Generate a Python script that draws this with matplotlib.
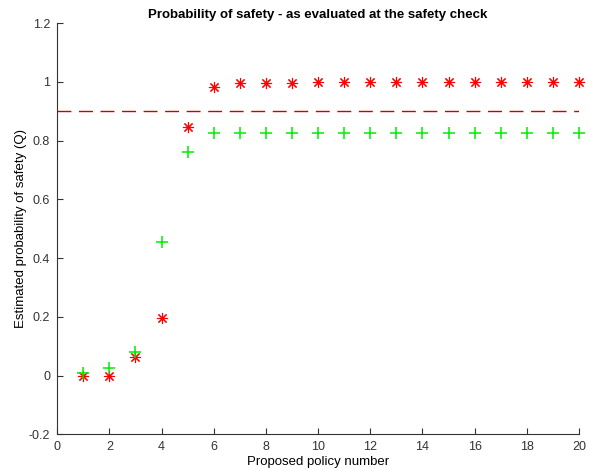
import matplotlib
matplotlib.use('Agg')
import matplotlib.pyplot as plt

plt.rcParams['font.family'] = ['Liberation Sans', 'DejaVu Sans']

# Número de política propuesta
policy = list(range(1, 21))

# Probabilidad estimada en el chequeo de seguridad
q_check = [0.0, 0.0, 0.062, 0.196, 0.846, 0.981, 0.997, 0.997, 0.997, 1.0,
           1.0, 1.0, 1.0, 1.0, 1.0, 1.0, 1.0, 1.0, 1.0, 1.0]
q_pred = [0.009, 0.026, 0.081, 0.453, 0.762, 0.825, 0.826, 0.826, 0.826, 0.826,
          0.826, 0.826, 0.826, 0.826, 0.826, 0.826, 0.826, 0.826, 0.826, 0.826]
threshold = 0.9

fig = plt.figure(figsize=(5.89, 4.71), dpi=100)
ax = fig.add_axes([0.097, 0.078, 0.886, 0.873])

ax.plot([0, 20], [threshold, threshold], color='#cc0000', linestyle=(0, (10, 5.5)),
        linewidth=1.0)
ax.plot(policy, q_check, linestyle='none', marker=(8, 2, 0), color='red',
        markersize=8, markeredgewidth=0.8, clip_on=False)
ax.plot(policy, q_pred, linestyle='none', marker='+', color='#00ee00',
        markersize=9, markeredgewidth=1.1, clip_on=False)

ax.set_xlim(0, 20)
ax.set_ylim(-0.2, 1.2)
ax.set_xticks(range(0, 21, 2))
ax.set_yticks([-0.2, 0, 0.2, 0.4, 0.6, 0.8, 1.0, 1.2])
ax.set_yticklabels(['-0.2', '0', '0.2', '0.4', '0.6', '0.8', '1', '1.2'])
ax.tick_params(direction='in', length=4, labelsize=9, colors='#333333', pad=5)
for side in ['top', 'right']:
    ax.spines[side].set_visible(False)
for side in ['left', 'bottom']:
    ax.spines[side].set_color('#333333')
    ax.spines[side].set_linewidth(0.8)

ax.set_xlabel('Proposed policy number', fontsize=9.5, labelpad=2)
ax.set_ylabel('Estimated probability of safety (Q)', fontsize=9.5, labelpad=1)
ax.set_title('Probability of safety - as evaluated at the safety check',
             fontsize=9.5, fontweight='bold', pad=4)

fig.savefig('out.png', dpi=100)
